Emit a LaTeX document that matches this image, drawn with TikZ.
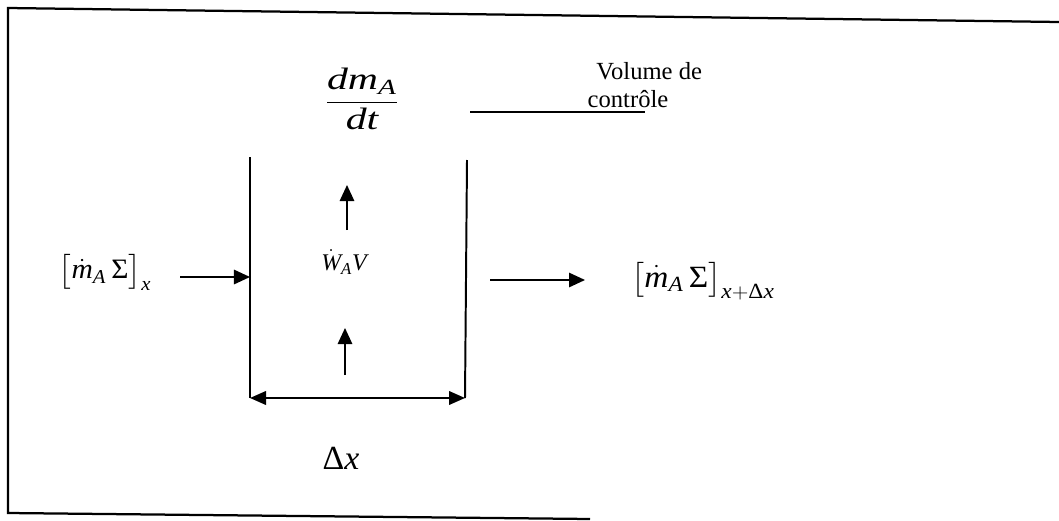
\documentclass[tikz,border=0pt]{standalone}
\usepackage{amsmath}
\usepackage{graphicx}
\usepackage{fontspec}
\setmainfont{Liberation Serif}
\usetikzlibrary{arrows.meta,positioning}

\newcommand{\tv}[1]{\text{\itshape #1}}

\begin{document}
\begin{tikzpicture}[
  x=0.025cm, y=-0.025cm,
  frame/.style={line width=1.6pt},
  wall/.style={line width=1.4pt},
  arr/.style={-{Triangle[length=0.4cm, width=0.36cm]}, line width=1.2pt},
  dblarr/.style={{Triangle[length=0.4cm, width=0.34cm]}-{Triangle[length=0.4cm, width=0.34cm]}, line width=1.4pt},
  lbl/.style={inner sep=1pt, font=\fontsize{20}{24}\selectfont},
]
\useasboundingbox (0,0) rectangle (1059,520);

% scanned frame
\draw[frame] (1059,22) -- (8,8) -- (8,513) -- (590,519);

% control volume walls
\coordinate (lt) at (250,157);
\coordinate (lb) at (250,398);
\coordinate (rt) at (467,160);
\coordinate (rb) at (465,398);
\draw[wall] (lt) -- (lb);
\draw[wall] (rt) -- (rb);
\draw[dblarr] (lb) -- (rb);

% labels
\node[lbl, font=\fontsize{22}{26}\selectfont] (rate) at (362,99)
  {\scalebox{1.35}[1]{$\dfrac{\tv{dm}_{\tv{A}}}{\tv{dt}}$}};
\node[inner sep=1pt, align=left, font=\fontsize{17.5}{20}\selectfont, anchor=west] (vc) at (586,85)
  {\hspace*{0.22cm}Volume de\\contrôle};
\node[lbl] (flowin) at (105,272)
  {\scalebox{1.05}[1]{$\bigl[\dot{\tv{m}}_{\tv{A}}\,\text{Σ}\bigr]_{\tv{x}}$}};
\node[lbl, font=\fontsize{22}{26}\selectfont] (flowout) at (703,281)
  {\scalebox{1.08}[1]{$\bigl[\dot{\tv{m}}_{\tv{A}}\,\text{Σ}\bigr]_{\tv{x}+\text{Δ}\tv{x}}$}};
\node[inner sep=1pt, font=\fontsize{17}{20}\selectfont] (gen) at (344,262) {$\dot{\tv{W}}_{\tv{A}}\tv{V}$};
\node[inner sep=1pt, font=\fontsize{24}{28}\selectfont] (dx) at (341,458) {Δ\textit{x}};

% pointer to the control volume
\coordinate (ptr) at (470,112);
\draw[line width=1.1pt] (ptr) -- (ptr -| vc.south);

% flows
\coordinate (instart) at (180,277);
\coordinate (outstart) at (490,280);
\coordinate (outend) at (585,280);
\draw[arr] (instart) -- (lt |- instart);
\draw[arr] (outstart) -- (outend);
\coordinate (upA) at (347,230);
\coordinate (upB) at (345,375);
\draw[arr] (upA) -- ++(0,-45);
\draw[arr] (upB) -- ++(0,-47);

\end{tikzpicture}
\end{document}
